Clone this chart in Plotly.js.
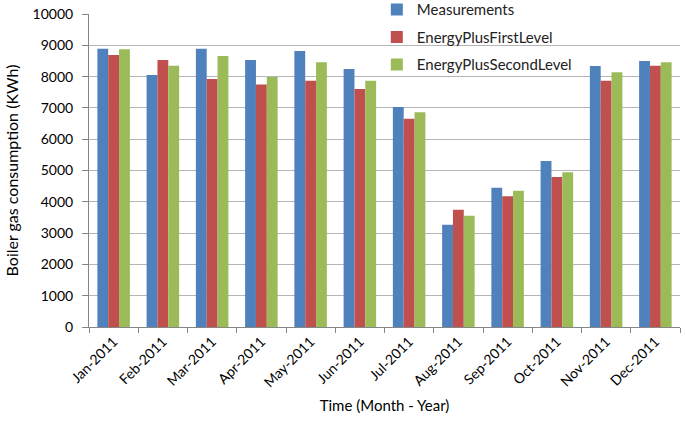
<!DOCTYPE html>
<html><head><meta charset="utf-8">
<script src="https://cdn.plot.ly/plotly-3.0.1.min.js"></script>
<style>html,body{margin:0;padding:0;background:#fff}</style>
</head><body>
<div id="chart" style="width:685px;height:429px"></div>
<script>
const months = ["Jan-2011","Feb-2011","Mar-2011","Apr-2011","May-2011","Jun-2011","Jul-2011","Aug-2011","Sep-2011","Oct-2011","Nov-2011","Dec-2011"];
const measurements = [8890, 8050, 8890, 8530, 8820, 8245, 7030, 3265, 4445, 5300, 8340, 8500];
const firstLevel   = [8690, 8530, 7925, 7745, 7870, 7605, 6650, 3745, 4180, 4790, 7870, 8350];
const secondLevel  = [8870, 8350, 8660, 7990, 8455, 7870, 6860, 3555, 4350, 4945, 8140, 8455];
const seriesNames = ["Measurements","EnergyPlusFirstLevel","EnergyPlusSecondLevel"];
const colors = ["#4F81BD","#C0504D","#9BBB59"];
const yTicks = [0,1000,2000,3000,4000,5000,6000,7000,8000,9000,10000];

const font = "Lato, 'Open Sans', sans-serif";
const traces = [measurements, firstLevel, secondLevel].map((vals, i) => ({
  type: "bar", x: months, y: vals, name: seriesNames[i],
  marker: {color: colors[i], line: {width: 0}},
  legendgroup: "g" + i
}));

const layout = {
  width: 685, height: 429,
  margin: {l: 89, r: 5, t: 14, b: 102, autoexpand: false},
  paper_bgcolor: "#fff", plot_bgcolor: "#fff",
  barmode: "group", bargap: 0.34, bargroupgap: 0,
  font: {family: font, size: 14, color: "#000"},
  showlegend: true,
  legend: {x: 0.487, y: 1.066, xanchor: "left", yanchor: "top",
    bgcolor: "rgba(0,0,0,0)", font: {family: font, size: 15, color: "#222"},
    traceorder: "grouped", tracegroupgap: 5, itemwidth: 30},
  xaxis: {
    type: "category", tickangle: -45,
    tickfont: {family: font, size: 14},
    showline: true, linecolor: "#868686", linewidth: 1,
    ticks: "outside", ticklen: 5, tickcolor: "#868686",
    tickson: "boundaries", showgrid: false,
    title: {text: "Time (Month - Year)", font: {family: font, size: 15}, standoff: 11}
  },
  yaxis: {
    range: [0, 10000], tickvals: yTicks, ticktext: yTicks.map(String),
    tickfont: {family: font, size: 14},
    showline: true, linecolor: "#868686", linewidth: 1,
    ticks: "outside", ticklen: 6, tickcolor: "#868686", ticklabelstandoff: 6,
    showgrid: true, gridcolor: "#b5b5b5", gridwidth: 1, zeroline: false,
    title: {text: "Boiler gas consumption (KWh)", font: {family: font, size: 16}, standoff: 9}
  }
};

Plotly.newPlot("chart", traces, layout, {displayModeBar: false, staticPlot: true});
</script>
</body></html>
